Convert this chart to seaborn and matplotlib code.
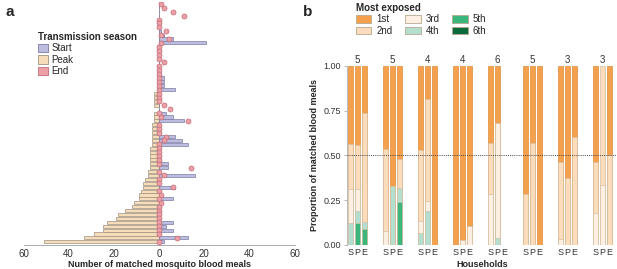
import numpy as np
import pandas as pd
import matplotlib
matplotlib.use("Agg")
import matplotlib.pyplot as plt
from matplotlib.patches import Patch
import seaborn as sns

sns.set_theme(style="white")
plt.rcParams['font.family'] = ['Liberation Sans', 'DejaVu Sans']

# ---------------- Panel a data (rows top -> bottom) ----------------
peak = [0, 0, 0, 0, 0, 0, 0, 0, 0, 0, 0, 1, 1, 0, 0, 0, 1, 1, 0, 1,
        1, 1, 1, 2, 2, 2, 2, 0, 2, 2, 2, 3, 3, 3, 3, 3, 3, 4, 4, 4,
        4, 4, 4, 5, 5, 6, 7, 7, 8, 9, 9, 11, 12, 15, 18, 19, 23, 25, 25, 29,
        33, 51]
start = [0, 0, 0, 0, 0, 0, 0, 1, 2, 6, 21, 0, 0, 0, 0, 0, 0, 0, 1, 2,
         2, 2, 7, 0, 0, 0, 0, 0, 3, 6, 11, 0, 0, 0, 7, 10, 13, 0, 0, 0,
         1, 4, 4, 0, 16, 0, 0, 7, 0, 0, 6, 0, 0, 0, 0, 0, 6, 3, 6, 0,
         13, 2]
end = [1, 2, 6, 11, 0, 0, 0, 3, 1, 4.5, 1, 0, 0, 0, 0, 2, 0, 0, 0, 0,
       0, 0, 0, 0, 0, 0, 2, 5, 0, 1, 13, 0, 0, 0, 3, 2, 0, 0, 0, 0,
       0, 0, 14, 0, 2, 0, 0, 6, 0, 1, 0, 1, 0, 0, 0, 0, 0, 0, 0, 0,
       8, 0]
rows = list(range(len(peak)))

# ---------------- Panel b data ----------------
households = ["H1", "H2", "H3", "H4", "H5", "H6", "H7", "H8"]
seasons = ["S", "P", "E"]
n_people = [5, 5, 4, 4, 6, 5, 3, 3]
ranks = ["1st", "2nd", "3rd", "4th", "5th", "6th"]
# proportions per bar (S, P, E for each household), one list per rank
prop_1st = [0.439, 0.44, 0.262, 0.463, 0.67, 0.522, 0.47, 0.188, 1.0,
            1.0, 0.972, 0.892, 0.431, 0.318, 0.0, 0.717, 0.431, 1.0,
            0.535, 0.625, 0.398, 0.539, 0.0, 0.498]
prop_2nd = [0.25, 0.25, 0.608, 0.459, 0.0, 0.158, 0.398, 0.565, 0.0,
            0.0, 0.0, 0.0, 0.286, 0.0, 0.0, 0.283, 0.569, 0.0,
            0.432, 0.375, 0.602, 0.283, 0.667, 0.502]
prop_3rd = [0.187, 0.12, 0.0, 0.078, 0.0, 0.0, 0.067, 0.057, 0.0,
            0.0, 0.028, 0.108, 0.283, 0.643, 0.0, 0.0, 0.0, 0.0,
            0.033, 0.0, 0.0, 0.178, 0.333, 0.0]
prop_4th = [0.124, 0.065, 0.043, 0.0, 0.33, 0.08, 0.065, 0.19, 0.0,
            0.0, 0.0, 0.0, 0.0, 0.039, 0.0, 0.0, 0.0, 0.0,
            0.0, 0.0, 0.0, 0.0, 0.0, 0.0]
prop_5th = [0.0, 0.125, 0.087, 0.0, 0.0, 0.24, 0.0, 0.0, 0.0,
            0.0, 0.0, 0.0, 0.0, 0.0, 0.0, 0.0, 0.0, 0.0,
            0.0, 0.0, 0.0, 0.0, 0.0, 0.0]
prop_6th = [0.0] * 24

season_cols = {"Start": "#bdbde0", "Peak": "#f6dcb9", "End": "#eaa0a6"}
rank_cols = {"1st": "#f5a04c", "2nd": "#fcdcba", "3rd": "#fdf0e2",
             "4th": "#b4dfcf", "5th": "#3bb77b", "6th": "#0b6a3b"}

fig = plt.figure(figsize=(6.17, 2.69), dpi=100)
W, H = 617, 269

# ================= Panel a =================
ax_a = fig.add_axes([23.5 / W, 1 - 244.5 / H, 271 / W, (244.5 - 2) / H])
dfa = pd.DataFrame({"row": rows, "peak": peak, "start": start, "end": end})
dfa["neg_peak"] = -dfa["peak"]
sns.barplot(data=dfa, x="neg_peak", y="row", orient="h", order=rows,
            color=season_cols["Peak"], saturation=1, width=0.8,
            edgecolor="#9d917f", linewidth=0.5, ax=ax_a, errorbar=None)
sns.barplot(data=dfa, x="start", y="row", orient="h", order=rows,
            color=season_cols["Start"], saturation=1, width=0.8,
            edgecolor="#7c7ca6", linewidth=0.5, ax=ax_a, errorbar=None)
ax_a.axvline(0, color="#bbbbbb", lw=0.6, zorder=0)
sns.scatterplot(data=dfa, x="end", y="row", ax=ax_a, color=season_cols["End"],
                edgecolor="#c56c77", linewidth=0.5, s=13, zorder=5, legend=False)
ax_a.set_xlim(-60, 60)
ax_a.set_ylim(len(rows) - 0.3, -0.5)
ax_a.set_xticks([-60, -40, -20, 0, 20, 40, 60])
ax_a.set_xticklabels(["60", "40", "20", "0", "20", "40", "60"])
ax_a.set_yticks([])
ax_a.set_ylabel("")
ax_a.set_xlabel("Number of matched mosquito blood meals", fontsize=6.5,
                fontweight="bold", labelpad=1)
for s in ["top", "right", "left"]:
    ax_a.spines[s].set_visible(False)
ax_a.spines["bottom"].set_color("#aaaaaa")
ax_a.spines["bottom"].set_linewidth(0.7)
ax_a.tick_params(axis="x", labelsize=7, length=0, pad=3, labelcolor="#333333")

leg_a = fig.legend(handles=[Patch(facecolor=season_cols["Start"], edgecolor="#7c7ca6", lw=0.6, label="Start"),
                            Patch(facecolor=season_cols["Peak"], edgecolor="#9d917f", lw=0.6, label="Peak"),
                            Patch(facecolor=season_cols["End"], edgecolor="#c56c77", lw=0.6, label="End")],
                   title="Transmission season", loc="upper left",
                   bbox_to_anchor=(31 / W, 1 - 25 / H), frameon=False,
                   fontsize=7, title_fontproperties={"weight": "bold", "size": 7},
                   handlelength=1.0, handleheight=1.0, handletextpad=0.4,
                   labelspacing=0.15, borderpad=0.2, alignment="left")

# ================= Panel b =================
ax_b = fig.add_axes([346.7 / W, 1 - 245 / H, (W - 346.7) / W, (245 - 65.7) / H])
pos = []
all_props = [prop_1st, prop_2nd, prop_3rd, prop_4th, prop_5th, prop_6th]
recs = []
k = 0
for h, hh in enumerate(households):
    for j, s in enumerate(seasons):
        p = h * 5 + j
        pos.append(p)
        for r, arr in zip(ranks, all_props):
            recs.append({"pos": p, "rank": r, "prop": arr[k]})
        k += 1
dfb = pd.DataFrame(recs)
order = list(range(40))
# stack: lowest rank at the bottom, 1st on top -> draw cumulative sums, tallest first
dfb["rank_i"] = dfb["rank"].map({r: i for i, r in enumerate(ranks)})
dfb = dfb.sort_values(["pos", "rank_i"], ascending=[True, False])
dfb["cum"] = dfb.groupby("pos")["prop"].cumsum()
for r in ranks:
    sub = dfb[(dfb["rank"] == r) & (dfb["prop"] > 0)]
    if len(sub) == 0:
        continue
    ec = "#e08c3a" if r == "1st" else "#d3bfa6"
    sns.barplot(data=sub, x="pos", y="cum", order=order, color=rank_cols[r],
                saturation=1, width=0.72, edgecolor=ec, linewidth=0.5,
                ax=ax_b, errorbar=None)
ax_b.axhline(0.5, color="#444444", lw=0.7, ls=(0, (1, 1.2)), zorder=5)
ax_b.set_xlim(-0.55, 38.1)
ax_b.set_ylim(0, 1)
ax_b.set_yticks([0, 0.25, 0.5, 0.75, 1.0])
ax_b.set_yticklabels(["0.00", "0.25", "0.50", "0.75", "1.00"])
ax_b.set_xticks(pos)
ax_b.set_xticklabels(seasons * len(households))
for h, n in enumerate(n_people):
    ax_b.text(h * 5 + 1, 1.005, str(n), ha="center", va="bottom", fontsize=7,
              color="#333333", clip_on=False)
for s in ["top", "right", "bottom"]:
    ax_b.spines[s].set_visible(False)
ax_b.spines["left"].set_color("#bbbbbb")
ax_b.spines["left"].set_linewidth(0.7)
ax_b.tick_params(axis="x", labelsize=6.5, length=0, pad=2, labelcolor="#333333")
ax_b.tick_params(axis="y", labelsize=6.5, length=2, width=0.6, color="#aaaaaa",
                 pad=2, labelcolor="#333333", left=True)
ax_b.set_xlabel("Households", fontsize=6.5, fontweight="bold", labelpad=2)
ax_b.set_ylabel("Proportion of matched blood meals", fontsize=6.5,
                fontweight="bold", labelpad=3)

leg_b = fig.legend(handles=[Patch(facecolor=rank_cols[r], edgecolor="#b8a891", lw=0.6, label=r)
                            for r in ranks],
                   title="Most exposed", loc="upper left", ncol=3,
                   bbox_to_anchor=(349 / W, 1 + 4 / H), frameon=False,
                   fontsize=7, title_fontproperties={"weight": "bold", "size": 7},
                   handlelength=1.6, handleheight=0.8, handletextpad=0.5,
                   labelspacing=0.15, columnspacing=1.3, borderpad=0.2,
                   alignment="left")

fig.text(5 / W, 1 - 12 / H, "a", fontsize=11, fontweight="bold", va="center")
fig.text(303 / W, 1 - 12 / H, "b", fontsize=11, fontweight="bold", va="center")

fig.savefig("out.png", dpi=100)
